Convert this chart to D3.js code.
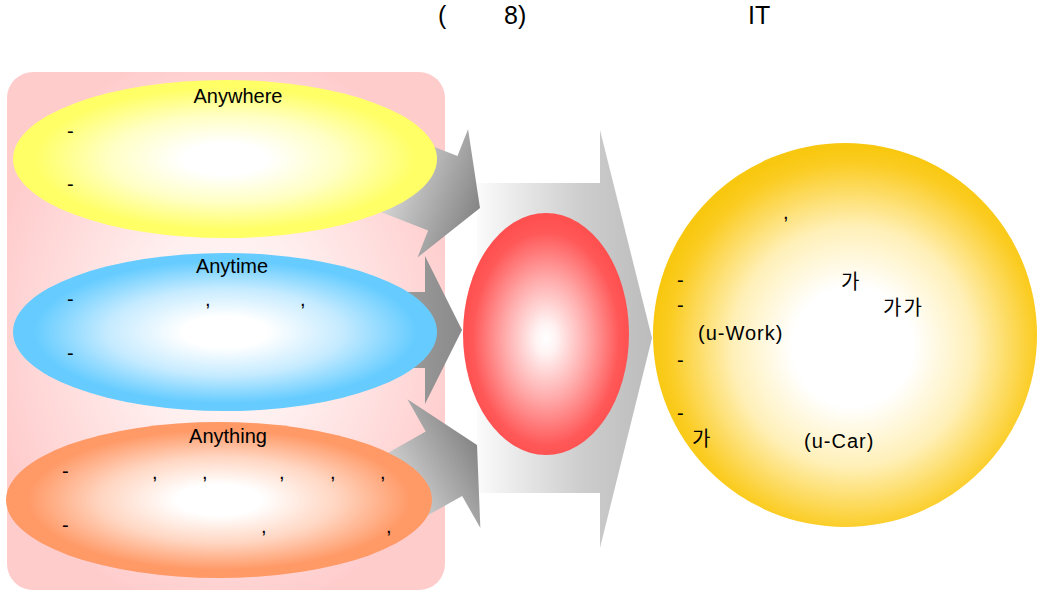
<!DOCTYPE html>
<html>
<head>
<meta charset="utf-8">
<script src="https://cdn.jsdelivr.net/npm/d3@7"></script>
<style>
  html, body { margin: 0; padding: 0; background: #ffffff; }
  svg { display: block; }
  text { font-family: "Liberation Sans", Arial, "Noto Sans CJK KR", sans-serif; fill: #000; }
</style>
</head>
<body>
<svg id="chart" width="1039" height="595"></svg>
<script>
// ---------- content (text as it appears) ----------
const titleParts = ["(", "8)", "IT"];
const sourceLabels = ["Anywhere", "Anytime", "Anything"];
const anywhereFragments = ["-", "-"];
const anytimeFragments = ["-", ",", ",", "-"];
const anythingFragments = ["-", ",", ",", ",", ",", ",", "-", ",", ","];
const hubFragments = [",", "가", "가가", "-", "-", "(u-Work)", "-", "-", "가", "(u-Car)"];

// ---------- layout (positions, kept separate from content) ----------
const titleX = [438, 504, 748];
const titleY = 24;
const ellipseLayout = [
  { cx: 225, cy: 159, rx: 212, ry: 79, edge: "#ffff66", mid: "#ffffc4", labelX: 238, labelY: 103 },
  { cx: 225, cy: 332, rx: 212, ry: 79, edge: "#66ccff", mid: "#c6ebff", labelX: 232, labelY: 273 },
  { cx: 219, cy: 500, rx: 213, ry: 78, edge: "#ff9966", mid: "#ffd6c2", labelX: 228, labelY: 443 }
];
const anywhereXY = [[67, 138], [67, 191]];
const anytimeXY = [[67, 306], [205, 306], [300, 306], [67, 360]];
const anythingXY = [[62, 478], [152, 479], [202, 479], [279, 479], [330, 479], [380, 479],
                    [62, 532], [261, 533], [386, 533]];
const hubXY = [[783, 219], [841, 289], [883, 315], [677, 287], [677, 312], [698, 340],
               [677, 367], [677, 420], [692, 446], [804, 448]];
const hubSpacing = [0, 0, 2, 0, 0, 1, 0, 0, 0, 1];

// small arrows: tip, angle (deg), total length, head length, head half width, body half width
const smallArrows = [
  { tip: [480, 208], angle: 21.5, len: 110, head: 40, hw: 69, bw: 40, c0: "#e4e4e4", c1: "#858585" },
  { tip: [462, 330], angle: 0, len: 100, head: 37, hw: 74, bw: 38, c0: "#a8a8a8", c1: "#8a8a8a" },
  { tip: [477, 445], angle: -29.5, len: 110, head: 38, hw: 74, bw: 37, c0: "#e4e4e4", c1: "#858585" }
];
const bigArrow = { x0: 477, xHead: 600, tipX: 652, bodyTop: 183, bodyBottom: 493, headTop: 130, headBottom: 548, tipY: 338 };

const svg = d3.select("#chart");
const defs = svg.append("defs");

function stops(grad, list) {
  list.forEach(([o, c]) => grad.append("stop").attr("offset", o).attr("stop-color", c));
}

// gradients
const pinkGrad = defs.append("radialGradient").attr("id", "pinkGrad")
  .attr("cx", 0.5).attr("cy", 0.5).attr("r", 0.55);
stops(pinkGrad, [[0, "#fff8f8"], [0.35, "#fff0f0"], [1, "#ffcccc"]]);

ellipseLayout.forEach((e, i) => {
  const g = defs.append("radialGradient").attr("id", "eg" + i).attr("cx", 0.5).attr("cy", 0.5).attr("r", 0.5);
  stops(g, [[0, "#ffffff"], [0.2, "#ffffff"], [0.55, e.mid], [0.9, e.edge], [1, e.edge]]);
});

const redGrad = defs.append("radialGradient").attr("id", "redGrad").attr("cx", 0.5).attr("cy", 0.52).attr("r", 0.5);
stops(redGrad, [[0, "#ffffff"], [0.12, "#fff4f4"], [0.5, "#ffaaaa"], [0.88, "#ff5858"], [1, "#ff5050"]]);

const goldGrad = defs.append("radialGradient").attr("id", "goldGrad").attr("cx", 0.52).attr("cy", 0.53).attr("r", 0.52);
stops(goldGrad, [[0, "#ffffff"], [0.3, "#ffffff"], [0.6, "#fff0b8"], [0.92, "#fbcc22"], [1, "#f8c810"]]);

const bigGrad = defs.append("linearGradient").attr("id", "bigGrad")
  .attr("gradientUnits", "userSpaceOnUse")
  .attr("x1", bigArrow.x0).attr("y1", 0).attr("x2", bigArrow.tipX).attr("y2", 0);
stops(bigGrad, [[0, "#fbfbfb"], [0.6, "#cdcdcd"], [1, "#bcbcbc"]]);

// ---------- pink panel ----------
svg.append("rect").attr("x", 7).attr("y", 72).attr("width", 438).attr("height", 518)
  .attr("rx", 26).attr("ry", 26).attr("fill", "url(#pinkGrad)");

// ---------- big arrow ----------
const line = d3.line();
const b = bigArrow;
svg.append("path")
  .attr("d", line([[b.x0, b.bodyTop], [b.xHead, b.bodyTop], [b.xHead, b.headTop], [b.tipX, b.tipY],
                   [b.xHead, b.headBottom], [b.xHead, b.bodyBottom], [b.x0, b.bodyBottom]]) + "Z")
  .attr("fill", "url(#bigGrad)");

// ---------- small arrows ----------
smallArrows.forEach((a, i) => {
  const g = defs.append("linearGradient").attr("id", "sa" + i)
    .attr("gradientUnits", "userSpaceOnUse")
    .attr("x1", 0).attr("y1", 0).attr("x2", a.len).attr("y2", 0);
  stops(g, [[0, a.c0], [1, a.c1]]);
  const L = a.len, H = a.head;
  const pts = [[0, -a.bw], [L - H, -a.bw], [L - H, -a.hw], [L, 0], [L - H, a.hw], [L - H, a.bw], [0, a.bw]];
  const rad = a.angle * Math.PI / 180;
  const tx = a.tip[0] - L * Math.cos(rad), ty = a.tip[1] - L * Math.sin(rad);
  svg.append("path")
    .attr("d", line(pts) + "Z")
    .attr("transform", `translate(${tx},${ty}) rotate(${a.angle})`)
    .attr("fill", `url(#sa${i})`);
});

// ---------- left ellipses ----------
ellipseLayout.forEach((e, i) => {
  svg.append("ellipse").attr("cx", e.cx).attr("cy", e.cy).attr("rx", e.rx).attr("ry", e.ry)
    .attr("fill", `url(#eg${i})`);
  svg.append("text").attr("x", e.labelX).attr("y", e.labelY)
    .attr("text-anchor", "middle").attr("font-size", 20).text(sourceLabels[i]);
});

function drawFragments(texts, xy, spacing) {
  svg.append("g").selectAll("text").data(texts).join("text")
    .attr("x", (d, i) => xy[i][0]).attr("y", (d, i) => xy[i][1])
    .attr("letter-spacing", (d, i) => spacing ? spacing[i] : 0)
    .attr("font-size", 20).text(d => d);
}
drawFragments(anywhereFragments, anywhereXY);
drawFragments(anytimeFragments, anytimeXY);
drawFragments(anythingFragments, anythingXY);

// ---------- red ellipse ----------
svg.append("ellipse").attr("cx", 546).attr("cy", 334).attr("rx", 83).attr("ry", 121)
  .attr("fill", "url(#redGrad)");

// ---------- gold circle ----------
svg.append("circle").attr("cx", 845).attr("cy", 335).attr("r", 192)
  .attr("fill", "url(#goldGrad)");
drawFragments(hubFragments, hubXY, hubSpacing);

// ---------- title ----------
svg.append("g").selectAll("text").data(titleParts).join("text")
  .attr("x", (d, i) => titleX[i]).attr("y", titleY)
  .attr("font-size", 25).text(d => d);
</script>
</body>
</html>
